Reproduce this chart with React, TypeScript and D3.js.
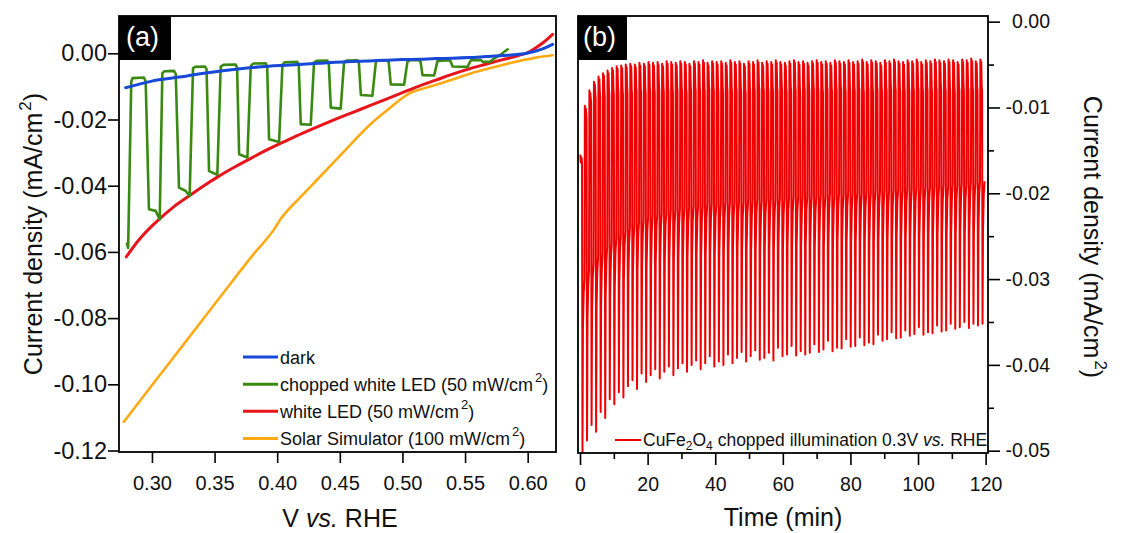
import { useEffect, useRef } from "react";
import * as d3 from "d3";

const W = 1123;
const H = 533;
const FONT = '"Liberation Sans", Arial, Helvetica, sans-serif';

// ---- panel (a): current density vs potential ----
const darkV = [0.279, 0.29, 0.3, 0.3135, 0.327, 0.34, 0.3535, 0.367, 0.38, 0.3934, 0.4068, 0.42, 0.4334, 0.4467, 0.46, 0.4734, 0.4867, 0.5, 0.5133, 0.5267, 0.54, 0.5533, 0.5666, 0.58, 0.5933, 0.6, 0.6066, 0.613, 0.6199];
const darkJ = [-0.0104, -0.0093, -0.0084, -0.0076, -0.0069, -0.0061, -0.0054, -0.0048, -0.0043, -0.0039, -0.0036, -0.0033, -0.003, -0.0027, -0.0025, -0.0023, -0.0021, -0.0019, -0.0018, -0.0016, -0.0015, -0.0013, -0.001, -0.0007, -0.0003, 0.0001, 0.0007, 0.0015, 0.0027];

const ledV = [0.2795, 0.29, 0.3056, 0.3176, 0.3296, 0.3415, 0.3535, 0.3668, 0.3801, 0.3934, 0.4068, 0.42, 0.4334, 0.4467, 0.46, 0.4734, 0.4867, 0.5, 0.5133, 0.5267, 0.54, 0.5533, 0.5666, 0.58, 0.5933, 0.6, 0.6066, 0.613, 0.6199];
const ledJ = [-0.0615, -0.0562, -0.0502, -0.0463, -0.0431, -0.04, -0.0371, -0.0342, -0.0315, -0.0289, -0.0265, -0.0242, -0.022, -0.0199, -0.0179, -0.0159, -0.0139, -0.0119, -0.0099, -0.0081, -0.0063, -0.0047, -0.0033, -0.0019, -0.0006, 0.0002, 0.0017, 0.0034, 0.0057];

const solarV = [0.2776, 0.3, 0.327, 0.3535, 0.38, 0.3987, 0.402, 0.418, 0.4334, 0.455, 0.4734, 0.49, 0.5, 0.506, 0.51, 0.525, 0.54, 0.555, 0.5666, 0.58, 0.5933, 0.6066, 0.6199];
const solarJ = [-0.1113, -0.1003, -0.0871, -0.0741, -0.0612, -0.0525, -0.0505, -0.0437, -0.0376, -0.029, -0.0218, -0.0165, -0.0135, -0.012, -0.0114, -0.0097, -0.0079, -0.006, -0.0048, -0.0035, -0.0023, -0.0013, -0.0006];

const choppedV = [0.28, 0.281, 0.2835, 0.2845, 0.2936, 0.295, 0.2976, 0.303, 0.3062, 0.3083, 0.31, 0.3176, 0.319, 0.3216, 0.327, 0.3301, 0.3328, 0.3345, 0.3424, 0.3436, 0.3456, 0.3522, 0.3549, 0.357, 0.3669, 0.368, 0.3696, 0.3762, 0.3789, 0.381, 0.3909, 0.392, 0.3935, 0.4015, 0.4042, 0.406, 0.4161, 0.4172, 0.4188, 0.4268, 0.4294, 0.4315, 0.4401, 0.4412, 0.4428, 0.4507, 0.4534, 0.4555, 0.4641, 0.4652, 0.4668, 0.476, 0.4788, 0.4805, 0.488, 0.489, 0.4907, 0.5013, 0.504, 0.506, 0.5133, 0.5145, 0.516, 0.5253, 0.528, 0.5373, 0.5385, 0.54, 0.552, 0.5546, 0.5626, 0.564, 0.57, 0.5719, 0.578, 0.584];
const choppedJ = [-0.0575, -0.0588, -0.0085, -0.0075, -0.0073, -0.0085, -0.0471, -0.0476, -0.0502, -0.006, -0.0054, -0.0053, -0.0062, -0.0406, -0.0416, -0.0431, -0.0045, -0.0041, -0.004, -0.0048, -0.0356, -0.0367, -0.004, -0.0035, -0.0034, -0.0045, -0.0305, -0.0315, -0.0038, -0.0031, -0.003, -0.004, -0.026, -0.0268, -0.0034, -0.0027, -0.0026, -0.0035, -0.0214, -0.0216, -0.0028, -0.0023, -0.0022, -0.003, -0.0164, -0.0167, -0.0026, -0.0022, -0.0021, -0.0028, -0.0126, -0.0128, -0.0026, -0.0021, -0.0021, -0.0027, -0.0094, -0.0095, -0.0025, -0.0021, -0.0021, -0.0026, -0.0066, -0.0067, -0.0023, -0.0021, -0.0025, -0.004, -0.0041, -0.0021, -0.002, -0.0025, -0.0026, -0.0019, -0.0005, 0.0012];

const xTicksA = [0.3, 0.35, 0.4, 0.45, 0.5, 0.55, 0.6];
const yTicksA = [0, -0.02, -0.04, -0.06, -0.08, -0.1, -0.12];

const legendA = [
  { key: "dark", text: "dark", sup: "", tail: "" },
  { key: "chopped", text: "chopped white LED (50 mW/cm", sup: "2", tail: ")" },
  { key: "led", text: "white LED (50 mW/cm", sup: "2", tail: ")" },
  { key: "solar", text: "Solar Simulator (100 mW/cm", sup: "2", tail: ")" },
];

// ---- panel (b): chopped chronoamperometry, one value per light cycle ----
const chopPeriodMin = 1.345;
const darkPeak = [
  -0.0155, -0.0098, -0.008, -0.007, -0.0064, -0.006, -0.0057, -0.0054, -0.0052, -0.0051,
  -0.005, -0.0049, -0.005, -0.0048, -0.0049, -0.0047, -0.0048, -0.0047, -0.0049, -0.0046,
  -0.0047, -0.0048, -0.0046, -0.0047, -0.0049, -0.0046, -0.0047, -0.0045, -0.0048, -0.0046,
  -0.0047, -0.0046, -0.0048, -0.0045, -0.0047, -0.0046, -0.0049, -0.0046, -0.0047, -0.0045,
  -0.0048, -0.0046, -0.0047, -0.0045, -0.0047, -0.0048, -0.0046, -0.0045, -0.0047, -0.0046,
  -0.0048, -0.0046, -0.0045, -0.0047, -0.0046, -0.0048, -0.0045, -0.0046, -0.0047, -0.0045,
  -0.0047, -0.0046, -0.0044, -0.0047, -0.0045, -0.0046, -0.0048, -0.0045, -0.0046, -0.0044,
  -0.0046, -0.0047, -0.0045, -0.0046, -0.0044, -0.0047, -0.0045, -0.0046, -0.0044, -0.0045,
  -0.0046, -0.0044, -0.0045, -0.0047, -0.0044, -0.0045, -0.0043, -0.0046, -0.0044,
];
const darkEnd = [
  -0.0165, -0.0112, -0.0095, -0.009, -0.0088, -0.0087, -0.0086, -0.0085, -0.0084, -0.0085,
  -0.0083, -0.0084, -0.0082, -0.0083, -0.0084, -0.0082, -0.0083, -0.0081, -0.0083, -0.0082,
  -0.0083, -0.0081, -0.0082, -0.0084, -0.0082, -0.0081, -0.0083, -0.0082, -0.008, -0.0082,
  -0.0083, -0.0081, -0.0082, -0.0083, -0.0081, -0.0082, -0.0084, -0.0081, -0.0082, -0.008,
  -0.0082, -0.0083, -0.0081, -0.0082, -0.008, -0.0083, -0.0082, -0.0081, -0.0083, -0.0081,
  -0.0082, -0.008, -0.0082, -0.0083, -0.0081, -0.0082, -0.008, -0.0081, -0.0083, -0.0081,
  -0.0082, -0.0081, -0.0083, -0.008, -0.0082, -0.0081, -0.0083, -0.0082, -0.008, -0.0081,
  -0.0082, -0.0083, -0.0081, -0.0082, -0.008, -0.0082, -0.0081, -0.0083, -0.0081, -0.008,
  -0.0082, -0.0081, -0.0083, -0.0081, -0.008, -0.0082, -0.0081, -0.0082, -0.0081,
];
const spikeMin = [
  -0.0502, -0.0488, -0.047, -0.0478, -0.0455, -0.0462, -0.044, -0.0446, -0.0432, -0.0438,
  -0.0425, -0.0418, -0.0428, -0.041, -0.042, -0.0412, -0.0405, -0.0416, -0.0408, -0.0402,
  -0.0412, -0.0404, -0.0398, -0.0408, -0.04, -0.0395, -0.0405, -0.0398, -0.039, -0.0402,
  -0.0396, -0.04, -0.0388, -0.0398, -0.0392, -0.0385, -0.0396, -0.039, -0.0383, -0.0394,
  -0.0392, -0.0386, -0.0395, -0.038, -0.039, -0.0388, -0.0378, -0.0389, -0.0384, -0.0388,
  -0.0386, -0.0376, -0.0385, -0.0382, -0.0372, -0.0384, -0.038, -0.0381, -0.037, -0.0379,
  -0.0378, -0.0368, -0.0377, -0.0374, -0.0376, -0.0365, -0.0372, -0.037, -0.0362, -0.0369,
  -0.0368, -0.036, -0.0366, -0.0364, -0.0356, -0.0365, -0.0362, -0.0363, -0.0354, -0.0361,
  -0.036, -0.0352, -0.0358, -0.0356, -0.035, -0.0357, -0.0352, -0.0354, -0.0352,
];
const lightEnd = [
  -0.03, -0.029, -0.0282, -0.0275, -0.027, -0.0262, -0.0258, -0.0252, -0.0248, -0.0244,
  -0.024, -0.0236, -0.0233, -0.0231, -0.0228, -0.0226, -0.0225, -0.0222, -0.0222, -0.022,
  -0.0219, -0.0218, -0.0216, -0.0217, -0.0215, -0.0214, -0.0215, -0.0213, -0.0212, -0.0213,
  -0.0212, -0.021, -0.0211, -0.021, -0.0209, -0.021, -0.0208, -0.0209, -0.0207, -0.0208,
  -0.0207, -0.0206, -0.0207, -0.0205, -0.0206, -0.0205, -0.0204, -0.0205, -0.0203, -0.0204,
  -0.0203, -0.0204, -0.0202, -0.0203, -0.0201, -0.0202, -0.02, -0.0201, -0.0199, -0.02,
  -0.0199, -0.02, -0.0198, -0.0199, -0.0197, -0.0198, -0.0196, -0.0197, -0.0196, -0.0195,
  -0.0196, -0.0194, -0.0195, -0.0193, -0.0194, -0.0192, -0.0193, -0.0191, -0.0192, -0.019,
  -0.0191, -0.0189, -0.019, -0.0188, -0.0189, -0.0187, -0.0188, -0.0186, -0.0186,
];

const xTicksB = [0, 20, 40, 60, 80, 100, 120];
const xMinorB = [10, 30, 50, 70, 90, 110];
const yTicksB = [0, -0.01, -0.02, -0.03, -0.04, -0.05];
const yMinorB = [-0.005, -0.015, -0.025, -0.035, -0.045];

const COLORS: Record<string, string> = {
  dark: "#1848d8",
  chopped: "#3a8a12",
  led: "#e8141c",
  solar: "#ffaa14",
  trace: "#ee0000",
};

type Sel = d3.Selection<SVGGElement, unknown, null, undefined>;

function styleAxis(g: Sel, size: number) {
  g.attr("font-family", FONT).attr("font-size", size);
  g.select(".domain").remove();
  g.selectAll(".tick line").attr("stroke", "#000").attr("stroke-width", 1.6);
  g.selectAll(".tick text").attr("fill", "#111");
}

function supLabel(t: d3.Selection<SVGTextElement, unknown, null, undefined>, main: string, sup: string, tail: string, supSize: number, rise: number) {
  t.append("tspan").text(main);
  if (sup) {
    t.append("tspan").attr("font-size", supSize).attr("dx", 2).attr("dy", -rise).text(sup);
    t.append("tspan").attr("dy", rise).text(tail);
  }
}

function drawPanelA(g: Sel) {
  const L = 119, R = 556, T = 16, B = 452;
  const x = d3.scaleLinear().domain([0.2737, 0.6226]).range([L, R]);
  const y = d3.scaleLinear().domain([-0.12045, 0.01127]).range([B, T]);

  g.append("clipPath").attr("id", "clipA").append("rect").attr("x", L).attr("y", T).attr("width", R - L).attr("height", B - T);

  const smooth = d3.line<[number, number]>().x((d) => x(d[0])).y((d) => y(d[1])).curve(d3.curveMonotoneX);
  const straight = d3.line<[number, number]>().x((d) => x(d[0])).y((d) => y(d[1]));
  const series = [
    { key: "solar", v: solarV, j: solarJ, w: 2.6, gen: smooth },
    { key: "led", v: ledV, j: ledJ, w: 3, gen: smooth },
    { key: "chopped", v: choppedV, j: choppedJ, w: 2.6, gen: straight },
    { key: "dark", v: darkV, j: darkJ, w: 3, gen: smooth },
  ];
  const plot = g.append("g").attr("clip-path", "url(#clipA)");
  series.forEach((s) => {
    const pts = s.v.map((v, i) => [v, s.j[i]] as [number, number]);
    plot.append("path").attr("d", s.gen(pts) as string)
      .attr("fill", "none").attr("stroke", COLORS[s.key]).attr("stroke-width", s.w)
      .attr("stroke-linejoin", "round").attr("stroke-linecap", "round");
  });

  // frame
  g.append("rect").attr("x", L).attr("y", T).attr("width", R - L).attr("height", B - T)
    .attr("fill", "none").attr("stroke", "#000").attr("stroke-width", 1.8);

  const ax = g.append("g").attr("transform", `translate(0,${B})`)
    .call(d3.axisBottom(x).tickValues(xTicksA).tickSize(11).tickPadding(13).tickFormat((d) => (+d).toFixed(2)));
  styleAxis(ax, 20);
  const ay = g.append("g").attr("transform", `translate(${L},0)`)
    .call(d3.axisLeft(y).tickValues(yTicksA).tickSize(11).tickPadding(1).tickFormat((d) => (+d).toFixed(2)));
  styleAxis(ay, 23.5);

  // axis titles
  const xt = g.append("text").attr("x", 340).attr("y", 527).attr("text-anchor", "middle")
    .attr("font-family", FONT).attr("font-size", 25).attr("fill", "#111");
  xt.append("tspan").text("V ");
  xt.append("tspan").attr("font-style", "italic").text("vs.");
  xt.append("tspan").text(" RHE");

  const yt = g.append("text").attr("transform", `translate(42,234) rotate(-90)`).attr("text-anchor", "middle")
    .attr("font-family", FONT).attr("font-size", 25).attr("fill", "#111");
  supLabel(yt, "Current density (mA/cm", "2", ")", 17, 11);

  // panel tag
  g.append("rect").attr("x", L).attr("y", T).attr("width", 52).attr("height", 44).attr("fill", "#000");
  g.append("text").attr("x", 126).attr("y", 46).attr("font-family", FONT).attr("font-size", 27)
    .attr("fill", "#fff").text("(a)");

  // legend
  const rowY = d3.scalePoint<string>().domain(legendA.map((d) => d.key)).range([357, 438.5]);
  legendA.forEach((d) => {
    const yy = rowY(d.key) as number;
    g.append("line").attr("x1", 243).attr("x2", 278).attr("y1", yy).attr("y2", yy)
      .attr("stroke", COLORS[d.key]).attr("stroke-width", 3);
    const t = g.append("text").attr("x", 280).attr("y", yy + 6.5).attr("font-family", FONT)
      .attr("font-size", 18).attr("fill", "#111");
    supLabel(t, d.text, d.sup, d.tail, 13, 9);
  });
}

function drawPanelB(g: Sel) {
  const L = 578, R = 988, T = 16, B = 453;
  const x = d3.scaleLinear().domain([-0.6, 120.7]).range([L, R]);
  const y = d3.scaleLinear().domain([-0.05027, 0.00066]).range([B, T]);

  g.append("clipPath").attr("id", "clipB").append("rect").attr("x", L).attr("y", T).attr("width", R - L).attr("height", B - T);

  // build the trace: light off (dark transient), then light on (spike and decay)
  const P = chopPeriodMin;
  const pts: [number, number][] = [];
  spikeMin.forEach((s, i) => {
    const t0 = i * P;
    pts.push(
      [t0 + 0.06 * P, darkPeak[i]],
      [t0 + 0.16 * P, darkPeak[i] - 0.0009],
      [t0 + 0.26 * P, darkPeak[i] - 0.0003],
      [t0 + 0.36 * P, darkEnd[i] + 0.0006],
      [t0 + 0.44 * P, darkEnd[i]],
      [t0 + 0.54 * P, s],
      [t0 + 0.64 * P, lightEnd[i] - 0.0058],
      [t0 + 0.8 * P, lightEnd[i] - 0.0017],
      [t0 + 0.98 * P, lightEnd[i]]
    );
  });
  const line = d3.line<[number, number]>().x((d) => x(d[0])).y((d) => y(d[1]));
  g.append("g").attr("clip-path", "url(#clipB)").append("path").attr("d", line(pts) as string)
    .attr("fill", "none").attr("stroke", COLORS.trace).attr("stroke-width", 2).attr("stroke-linejoin", "round");

  g.append("rect").attr("x", L).attr("y", T).attr("width", R - L).attr("height", B - T)
    .attr("fill", "none").attr("stroke", "#000").attr("stroke-width", 1.8);

  const ax = g.append("g").attr("transform", `translate(0,${B})`)
    .call(d3.axisBottom(x).tickValues(xTicksB).tickSize(12).tickPadding(12).tickFormat((d) => String(d)));
  styleAxis(ax, 19.5);
  const axm = g.append("g").attr("transform", `translate(0,${B})`)
    .call(d3.axisBottom(x).tickValues(xMinorB).tickSize(6).tickFormat(() => ""));
  styleAxis(axm, 10);

  const ay = g.append("g").attr("transform", `translate(${R},0)`)
    .call(d3.axisRight(y).tickValues(yTicksB).tickSize(12).tickFormat((d) => (+d).toFixed(2)));
  styleAxis(ay, 19.5);
  ay.selectAll(".tick text").attr("text-anchor", "end").attr("x", 62);
  const aym = g.append("g").attr("transform", `translate(${R},0)`)
    .call(d3.axisRight(y).tickValues(yMinorB).tickSize(6).tickFormat(() => ""));
  styleAxis(aym, 10);

  g.append("text").attr("x", 783).attr("y", 526).attr("text-anchor", "middle")
    .attr("font-family", FONT).attr("font-size", 25).attr("fill", "#111").text("Time (min)");

  const yt = g.append("text").attr("transform", `translate(1084,237) rotate(90)`).attr("text-anchor", "middle")
    .attr("font-family", FONT).attr("font-size", 25).attr("fill", "#111");
  supLabel(yt, "Current density (mA/cm", "2", ")", 17, 11);

  g.append("rect").attr("x", L).attr("y", T).attr("width", 49).attr("height", 44).attr("fill", "#000");
  g.append("text").attr("x", 583).attr("y", 46).attr("font-family", FONT).attr("font-size", 27)
    .attr("fill", "#fff").text("(b)");

  // legend
  g.append("line").attr("x1", 615).attr("x2", 641).attr("y1", 440).attr("y2", 440)
    .attr("stroke", COLORS.trace).attr("stroke-width", 2);
  const lt = g.append("text").attr("x", 643).attr("y", 446).attr("font-family", FONT)
    .attr("font-size", 17.5).attr("fill", "#111");
  lt.append("tspan").text("CuFe");
  lt.append("tspan").attr("font-size", 12).attr("dy", 4).text("2");
  lt.append("tspan").attr("dy", -4).text("O");
  lt.append("tspan").attr("font-size", 12).attr("dy", 4).text("4");
  lt.append("tspan").attr("dy", -4).text(" chopped illumination 0.3V ");
  lt.append("tspan").attr("font-style", "italic").text("vs.");
  lt.append("tspan").text(" RHE");
}

export default function App() {
  const ref = useRef<SVGSVGElement | null>(null);

  useEffect(() => {
    if (!ref.current) return;
    const svg = d3.select(ref.current);
    svg.selectAll("*").remove();
    drawPanelA(svg.append("g") as unknown as Sel);
    drawPanelB(svg.append("g") as unknown as Sel);
  }, []);

  return (
    <svg
      ref={ref}
      width={W}
      height={H}
      viewBox={`0 0 ${W} ${H}`}
      style={{ position: "absolute", left: 0, top: 0, background: "#fff" }}
    />
  );
}
